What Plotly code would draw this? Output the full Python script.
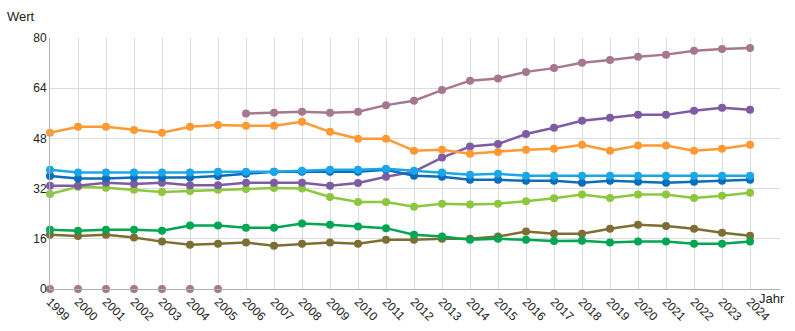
import plotly.graph_objects as go

years = list(range(1999, 2025))

orange = [49.8, 51.7, 51.7, 50.7, 49.8, 51.7, 52.3, 52.0, 52.0, 53.3, 50.1, 47.9, 47.9, 44.1, 44.4, 43.1, 43.7, 44.4, 44.7, 46.0, 44.1, 45.7, 45.7, 44.1, 44.7, 46.0]
mauve_zero_years = list(range(1999, 2006))
mauve_zero = [0, 0, 0, 0, 0, 0, 0]
mauve_years = list(range(2006, 2025))
mauve = [55.9, 56.2, 56.5, 56.2, 56.5, 58.6, 60.0, 63.4, 66.4, 67.1, 69.2, 70.4, 72.1, 73.0, 74.0, 74.7, 75.9, 76.5, 76.8]
purple = [32.9, 32.9, 33.9, 33.5, 33.9, 33.1, 33.1, 33.9, 33.9, 33.9, 32.9, 33.8, 35.8, 37.4, 41.9, 45.4, 46.2, 49.4, 51.4, 53.6, 54.6, 55.5, 55.5, 56.8, 57.8, 57.1]
lightblue = [38.0, 37.1, 37.1, 37.1, 37.1, 37.1, 37.4, 37.4, 37.4, 37.7, 38.0, 38.0, 38.3, 37.7, 37.1, 36.4, 36.7, 36.1, 36.1, 36.1, 36.1, 36.1, 36.1, 36.1, 36.1, 36.1]
darkblue = [36.0, 35.2, 35.2, 35.5, 35.5, 35.5, 36.0, 36.7, 37.4, 37.4, 37.4, 37.4, 38.0, 36.1, 35.8, 34.8, 34.8, 34.5, 34.5, 33.9, 34.5, 34.2, 33.9, 34.2, 34.5, 34.8]
lightgreen = [30.3, 32.6, 32.3, 31.6, 30.9, 31.2, 31.6, 31.9, 32.2, 32.0, 29.3, 27.7, 27.7, 26.2, 27.2, 26.9, 27.2, 28.0, 28.9, 30.1, 29.0, 30.1, 30.1, 29.0, 29.7, 30.7]
green = [18.9, 18.6, 18.9, 18.9, 18.6, 20.2, 20.2, 19.5, 19.5, 20.9, 20.5, 19.9, 19.4, 17.3, 16.7, 15.7, 16.0, 15.7, 15.3, 15.4, 14.8, 15.1, 15.1, 14.4, 14.4, 15.1]
olive = [17.3, 16.9, 17.3, 16.4, 15.1, 14.1, 14.4, 14.8, 13.8, 14.4, 14.8, 14.4, 15.7, 15.7, 16.0, 16.0, 16.7, 18.3, 17.6, 17.6, 19.2, 20.5, 20.1, 19.2, 17.9, 17.0]

y_ticks = [0, 16, 32, 48, 64, 80]

series = [
    ("olive", years, olive, "#7d6e33"),
    ("green", years, green, "#00a651"),
    ("lightgreen", years, lightgreen, "#8dc63f"),
    ("purple", years, purple, "#7e5ba3"),
    ("darkblue", years, darkblue, "#0a6ebd"),
    ("lightblue", years, lightblue, "#1aa7e8"),
    ("orange", years, orange, "#ff9933"),
    ("mauve", mauve_years, mauve, "#a6788f"),
]

fig = go.Figure()
for name, xs, ys, col in series:
    fig.add_trace(go.Scatter(x=xs, y=ys, mode="lines+markers", name=name,
                             line=dict(color=col, width=2.5),
                             marker=dict(color=col, size=8),
                             cliponaxis=False, showlegend=False))
fig.add_trace(go.Scatter(x=mauve_zero_years, y=mauve_zero, mode="markers",
                         marker=dict(color="#a6788f", size=8),
                         cliponaxis=False, showlegend=False))

font = "Liberation Sans, Arial, sans-serif"
fig.update_layout(
    width=795, height=331,
    margin=dict(l=50, r=15, t=38, b=42),
    paper_bgcolor="white", plot_bgcolor="white",
    font=dict(family=font, size=12, color="#222"),
    xaxis=dict(range=[1999, 2025.07], tickmode="array", tickvals=years,
               ticktext=[str(y) for y in years], tickangle=45, automargin=False,
               showgrid=True, gridcolor="#dcdcdc", gridwidth=1,
               showline=True, linecolor="#b0b0b0", linewidth=1,
               zeroline=False, ticks="", tickfont=dict(size=12, color="#222")),
    yaxis=dict(range=[0, 80], tickmode="array", tickvals=y_ticks, automargin=False,
               showgrid=True, gridcolor="#dcdcdc", gridwidth=1,
               showline=True, linecolor="#b0b0b0", linewidth=1,
               zeroline=False, ticks="", tickfont=dict(size=12, color="#222")),
    annotations=[
        dict(text="Wert", xref="paper", yref="paper", x=-50/730, y=1 + 22/251,
             xanchor="left", yanchor="middle", showarrow=False,
             font=dict(size=13, color="#222", family=font), xshift=5),
        dict(text="Jahr", xref="paper", yref="paper", x=1, y=-9/251,
             xanchor="right", yanchor="middle", showarrow=False,
             font=dict(size=13, color="#222", family=font), xshift=7),
    ],
)
fig.write_html("out.html")
